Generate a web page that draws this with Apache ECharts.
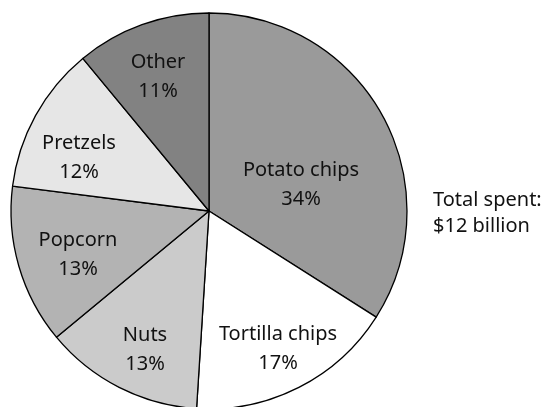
<!DOCTYPE html>
<html>
<head>
<meta charset="utf-8">
<script src="https://cdn.jsdelivr.net/npm/echarts@6/dist/echarts.min.js"></script>
<style>
	html, body { margin: 0; padding: 0; background: #fff; }
	#chart { width: 545px; height: 407px; }
</style>
</head>
<body>
<div id="chart"></div>
<script>
// 数据
const categories = ['Potato chips', 'Tortilla chips', 'Nuts', 'Popcorn', 'Pretzels', 'Other'];
const shares = [34, 17, 13, 13, 12, 11]; // percent
const totalNote = ['Total spent:', '$12 billion'];

// 样式
const sliceColors = ['#9a9a9a', '#ffffff', '#cbcbcb', '#b3b3b3', '#e6e6e6', '#828282'];
// label centres (px), placed by hand like the original
const labelPos = [[301, 185], [278, 349], [145, 350], [78, 255], [79, 158], [158, 77]];

let chart = echarts.init(document.getElementById('chart'));

let data = categories.map((name, i) => ({
	name: name,
	value: shares[i],
	itemStyle: { color: sliceColors[i] },
}));

let option = {
	animation: false,
	title: {
		text: totalNote.join('\n'),
		left: 433,
		top: 187,
		padding: 0,
		textStyle: {
			fontFamily: 'Noto Sans',
			fontSize: 20,
			fontWeight: 'normal',
			lineHeight: 26,
			color: '#111',
		},
	},
	series: [
		{
			type: 'pie',
			center: [209, 211],
			radius: [0, 198],
			startAngle: 90,
			clockwise: true,
			avoidLabelOverlap: false,
			itemStyle: {
				borderColor: '#000',
				borderWidth: 1.3,
			},
			label: {
				show: true,
				position: 'inside',
				formatter: '{b}\n{c}%',
				fontFamily: 'Noto Sans',
				fontSize: 20,
				lineHeight: 29,
				color: '#111',
			},
			labelLine: { show: false },
			labelLayout: function (params) {
				let p = labelPos[params.dataIndex];
				return { x: p[0], y: p[1], align: 'center', verticalAlign: 'middle' };
			},
			emphasis: { disabled: true },
			data: data,
		},
	],
};
chart.setOption(option);
</script>
</body>
</html>
